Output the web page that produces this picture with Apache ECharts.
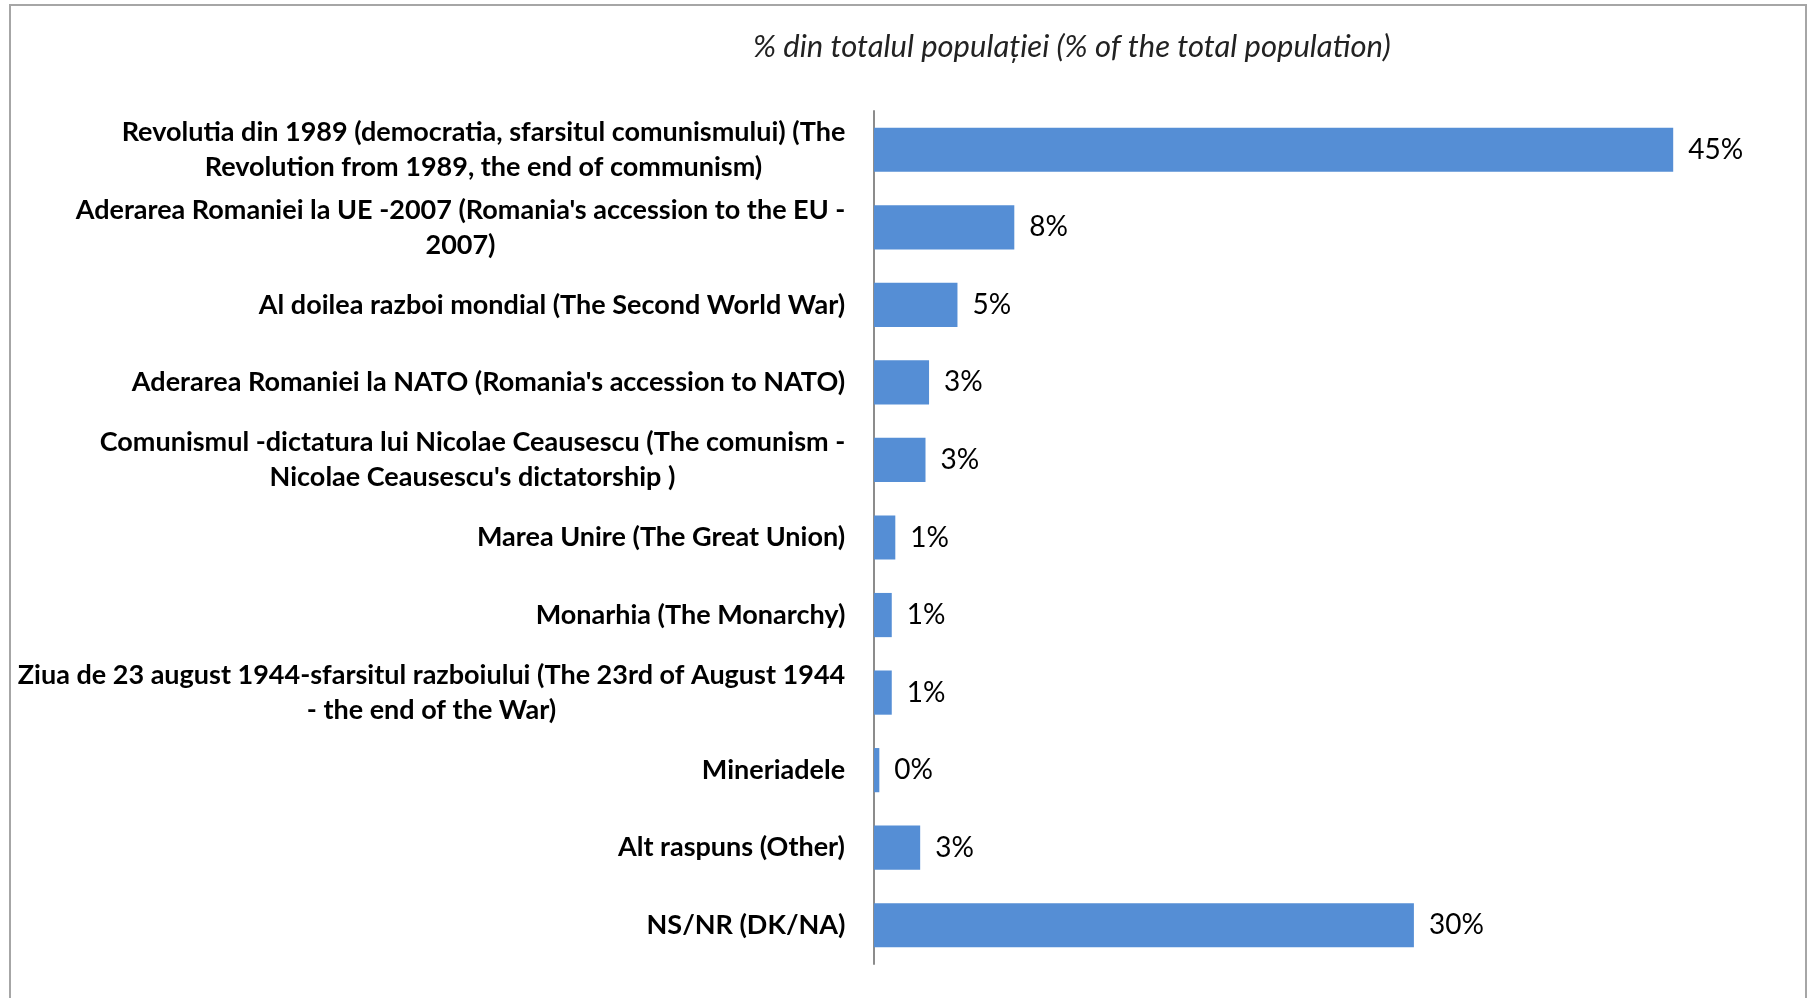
<!DOCTYPE html>
<html>
<head>
<meta charset="utf-8">
<script src="https://cdn.jsdelivr.net/npm/echarts@6/dist/echarts.min.js"></script>
<style>
html,body{margin:0;padding:0;background:#fff;}
#chart{width:1808px;height:998px;}
</style>
</head>
<body>
<div id="chart"></div>
<script>
const titleText = "% din totalul populației (% of the total population)";
const categories = [
  "Revolutia din 1989 (democratia, sfarsitul comunismului) (The\nRevolution from 1989, the end of communism)",
  "Aderarea Romaniei la UE -2007 (Romania's accession to the EU -\n2007)",
  "Al doilea razboi mondial (The Second World War)",
  "Aderarea Romaniei la NATO (Romania's accession to NATO)",
  "Comunismul -dictatura lui Nicolae Ceausescu (The comunism -\nNicolae Ceausescu's dictatorship )",
  "Marea Unire (The Great Union)",
  "Monarhia (The Monarchy)",
  "Ziua de 23 august 1944-sfarsitul razboiului (The 23rd of August 1944\n- the end of the War)",
  "Mineriadele",
  "Alt raspuns (Other)",
  "NS/NR (DK/NA)"
];
const values = [45.0, 7.9, 4.7, 3.1, 2.9, 1.2, 1.0, 1.0, 0.3, 2.6, 30.4];

const FONT = 'Lato';
const LABEL_SIZE = 27;
const LINE_H = 35;

// measure label lines so multi-line labels are centred line by line, block right-aligned
const ctx = document.createElement('canvas').getContext('2d');
ctx.font = 'bold ' + LABEL_SIZE + 'px ' + FONT;
const rich = {};
categories.forEach((c, i) => {
  const lines = c.split('\n');
  const w = Math.ceil(Math.max(...lines.map(l => ctx.measureText(l).width))) + 1;
  rich['c' + i] = {
    width: w, align: 'center', fontFamily: FONT, fontWeight: 'bold',
    fontSize: LABEL_SIZE, lineHeight: LINE_H, color: '#000'
  };
});

const chart = echarts.init(document.getElementById('chart'));
chart.setOption({
  backgroundColor: '#ffffff',
  animation: false,
  title: {
    text: titleText,
    left: 748,
    top: 26,
    textStyle: {fontFamily: FONT, fontStyle: 'italic', fontWeight: 'normal', fontSize: 31, color: '#222'}
  },
  graphic: [{
    type: 'rect',
    shape: {x: 10, y: 5, width: 1796, height: 1000},
    style: {fill: 'none', stroke: '#a6a6a6', lineWidth: 2},
    silent: true
  }],
  grid: {left: 874, right: 46, top: 111, bottom: 34, containLabel: false},
  xAxis: {
    type: 'value', min: 0, max: 50,
    show: false,
    splitLine: {show: false}
  },
  yAxis: {
    type: 'category',
    inverse: true,
    data: categories,
    axisLine: {show: true, lineStyle: {color: '#8c8c8c', width: 2}},
    axisTick: {show: false},
    axisLabel: {
      margin: 28, fontFamily: FONT, fontWeight: 'bold', fontSize: LABEL_SIZE, color: '#000',
      lineHeight: LINE_H, align: 'right',
      formatter: (val, idx) => val.split('\n').map(l => '{c' + idx + '|' + l + '}').join('\n'),
      rich: rich
    }
  },
  series: [{
    type: 'bar',
    data: values,
    barWidth: '57%',
    itemStyle: {color: '#558ED5'},
    label: {
      show: true, position: 'right', distance: 15,
      fontFamily: FONT, fontSize: 28, color: '#000',
      formatter: p => Math.round(p.value) + '%'
    }
  }]
});
</script>
</body>
</html>
